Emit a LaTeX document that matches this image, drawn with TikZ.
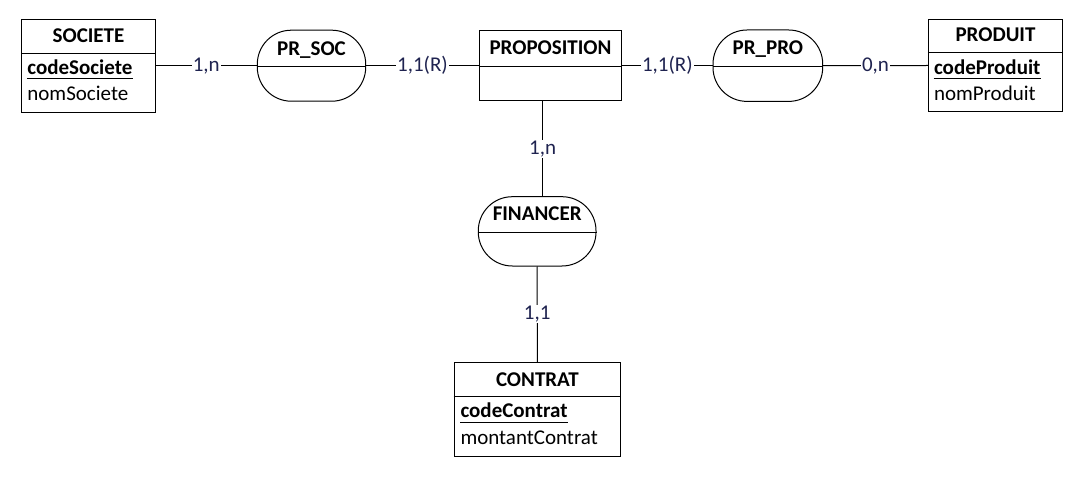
\documentclass[tikz,border=0pt]{standalone}
\usepackage{fontspec}
\setmainfont{Carlito}
\definecolor{cardc}{HTML}{1F2350}
\begin{document}
\begin{tikzpicture}[x=1pt,y=-1pt,line width=1pt]
\tikzset{
  ent/.style={draw, rectangle, inner sep=0pt, line width=1pt},
  asso/.style={draw, rectangle, rounded corners=34pt, inner sep=0pt, line width=1pt},
  ttl/.style={font=\fontsize{21}{25}\selectfont\bfseries, inner sep=0pt, anchor=base},
  att/.style={font=\fontsize{21}{25}\selectfont, inner sep=0pt, anchor=base west},
  pkatt/.style={font=\fontsize{21}{25}\selectfont\bfseries, inner sep=0pt, anchor=base west},
  card/.style={font=\fontsize{21}{25}\selectfont, text=cardc, fill=white, inner xsep=1pt, inner ysep=1pt},
  conn/.style={draw, line width=1pt}
}
\useasboundingbox (0,0) rectangle (1086,478);

% ---- Entities ----
\node[ent, minimum width=133.6pt, minimum height=92.7pt] (soc) at (88.5,65.7) {};
\node[ent, minimum width=134.4pt, minimum height=92.4pt] (pro) at (995.5,65.5) {};
\node[ent, minimum width=142.4pt, minimum height=70pt] (prop) at (550.5,65.7) {};
\node[ent, minimum width=166.7pt, minimum height=93.3pt] (con) at (537.35,409.35) {};

% ---- Associations ----
\node[asso, minimum width=108.4pt, minimum height=71pt] (prsoc) at (311.5,65.7) {};
\node[asso, minimum width=109.7pt, minimum height=71.4pt] (prpro) at (767.85,65.7) {};
\node[asso, minimum width=117.7pt, minimum height=69.3pt] (fin) at (537.15,231.35) {};

% ---- Separators ----
\draw ([yshift=-34.7pt]soc.north west) -- ([yshift=-34.7pt]soc.north east);
\draw ([yshift=-34pt]pro.north west) -- ([yshift=-34pt]pro.north east);
\draw ([yshift=-34pt]con.north west) -- ([yshift=-34pt]con.north east);
\draw ([yshift=-0.8pt]prop.west) -- ([yshift=-0.8pt]prop.east);
\draw ([yshift=-0.5pt]prsoc.west) -- ([yshift=-0.5pt]prsoc.east);
\draw ([yshift=-0.5pt]prpro.west) -- ([yshift=-0.5pt]prpro.east);
\draw ([yshift=-1pt]fin.west) -- ([yshift=-1pt]fin.east);

% ---- Titles ----
\node[ttl] (tsoc) at ([yshift=-24pt]soc.north) {SOCIETE};
\node[ttl] (tpro) at ([yshift=-23pt]pro.north) {PRODUIT};
\node[ttl] (tprop) at ([yshift=-24.3pt]prop.north) {PROPOSITION};
\node[ttl] (tcon) at ([yshift=-24pt]con.north) {CONTRAT};
\node[ttl] (tprsoc) at ([yshift=-26pt]prsoc.north) {PR\_SOC};
\node[ttl] (tprpro) at ([yshift=-25.5pt]prpro.north) {PR\_PRO};
\node[ttl] (tfin) at ([yshift=-24.3pt]fin.north) {FINANCER};

% ---- Attributes ----
\node[pkatt] (csoc) at ([xshift=5.7pt,yshift=-55.7pt]soc.north west) {codeSociete};
\node[att] (nsoc) at ([xshift=5.7pt,yshift=-81.7pt]soc.north west) {nomSociete};
\draw ([yshift=-4pt]csoc.base west) -- ([yshift=-4pt]csoc.base east);

\node[pkatt] (cpro) at ([xshift=5.7pt,yshift=-55.7pt]pro.north west) {codeProduit};
\node[att] (npro) at ([xshift=5.7pt,yshift=-81.4pt]pro.north west) {nomProduit};
\draw ([yshift=-4pt]cpro.base west) -- ([yshift=-4pt]cpro.base east);

\node[pkatt] (ccon) at ([xshift=6.5pt,yshift=-55.6pt]con.north west) {codeContrat};
\node[att] (mcon) at ([xshift=6.5pt,yshift=-82.3pt]con.north west) {montantContrat};
\draw ([yshift=-4.2pt]ccon.base west) -- ([yshift=-4.2pt]ccon.base east);

% ---- Connectors ----
\draw[conn] (soc.east) -- node[card] {1,n} (prsoc.west);
\draw[conn] (prsoc.east) -- node[card] {1,1(R)} (prop.west);
\draw[conn] (prop.east) -- node[card] {1,1(R)} (prpro.west);
\draw[conn] (prpro.east) -- node[card] {0,n} (pro.west);
\coordinate (ftop) at ([xshift=5.5pt]fin.north);
\draw[conn] (ftop |- prop.south) -- node[card] {1,n} (ftop);
\draw[conn] (fin.south) -- node[card] {1,1} (con.north);
\end{tikzpicture}
\end{document}
